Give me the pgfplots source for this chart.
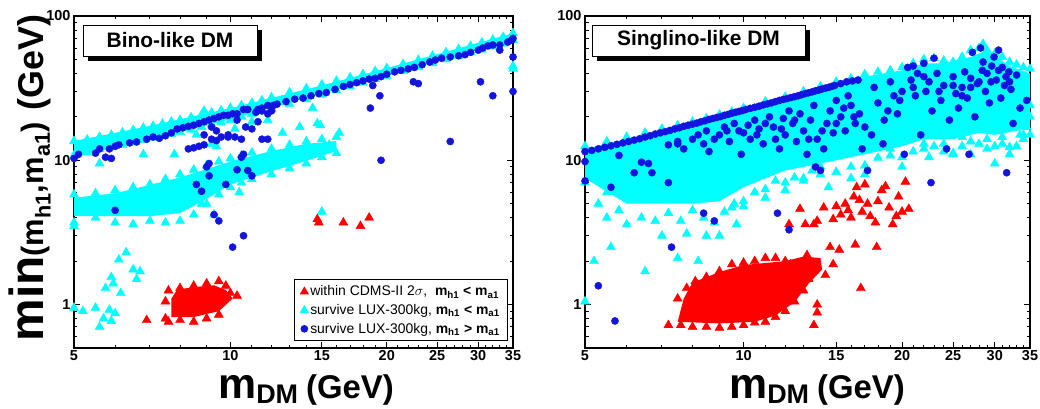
\documentclass[border=0pt]{standalone}
\usepackage{pgfplots}
\pgfplotsset{compat=1.18}
\usepackage{fontspec}
\setmainfont{Liberation Sans}
\definecolor{cy}{RGB}{0,255,255}
\definecolor{bl}{RGB}{20,20,225}
\definecolor{rd}{RGB}{255,0,0}
\newcommand{\sub}[1]{\textsubscript{#1}}
\begin{document}
\begin{tikzpicture}
\path[use as bounding box] (0,0) rectangle (1040bp,409bp);
% ---------------- LEFT PANEL ----------------
\begin{axis}[at={(74bp,61bp)}, anchor=south west, scale only axis, width=439bp, height=332bp,
  xmode=log, ymode=log, xmin=5, xmax=35, ymin=0.5, ymax=100,
  xtick={5,10,15,20,25,30,35}, xticklabels={5,10,15,20,25,30,35},
  minor xtick={6,7,8,9,11,12,13,14,16,17,18,19,21,22,23,24,26,27,28,29,31,32,33,34},
  ytick={1,10,100}, yticklabels={1,10,100},
  minor ytick={0.5,0.6,0.7,0.8,0.9,2,3,4,5,6,7,8,9,20,30,40,50,60,70,80,90},
  major tick length=6bp, minor tick length=3.5bp,
  tick style={black, line width=0.9pt}, axis line style={line width=1.1pt},
  ticklabel style={font=\bfseries\fontsize{14.5}{14.5}\selectfont},
  xticklabel style={inner ysep=2bp},
 legend style={at={(0.989,0.021)}, anchor=south east, draw=black, line width=0.8pt,
   font=\fontsize{14}{16}\selectfont, row sep=3bp, inner ysep=4bp, inner xsep=6bp},
 legend cell align=left]
\addlegendimage{only marks, mark=triangle*, mark size=4.5bp, rd}
\addlegendentry{within CDMS-II 2$\sigma$,\ \ \textbf{m\sub{h1} < m\sub{a1}}}
\addlegendimage{only marks, mark=triangle*, mark size=4.5bp, cy}
\addlegendentry{survive LUX-300kg, \textbf{m\sub{h1} < m\sub{a1}}}
\addlegendimage{only marks, mark=*, mark size=3.4bp, bl}
\addlegendentry{survive LUX-300kg, \textbf{m\sub{h1} > m\sub{a1}}}
% upper cyan band
\addplot[forget plot, draw=none, fill=cy] coordinates {(5,10.6)(7,13.8)(10,19.2)(15,29)(20,38.5)(35,68)(35,76)(20,43.5)(15,33)(10,23)(7,17.3)(5,13.6)};
\addplot[forget plot, only marks, mark=triangle*, mark size=5.2bp, cy] coordinates {
(5,10.8)(5.3,11.3)(5.6,11.9)(5.9,12.3)(6.2,12.8)(6.5,13.3)(6.8,13.8)(7.1,14.3)(7.4,14.7)(7.7,15.2)(8,15.7)(8.4,16.3)(8.8,17)(9.2,17.7)(9.6,18.3)(10,19)(10.5,20)(11,21)(11.5,21.8)(12,22.7)(13,24.5)(14,26.5)(15,28.5)(16,30.5)(17,32.5)(18,34.5)(19,36.5)(20,38.5)(21.5,41.5)(23,44.5)(24.5,47)(26,50)(27.5,53)(29,56)(30.5,58.5)(32,61.5)(33.5,64.5)(35,68)
(5,13.6)(5.3,13.9)(5.6,14.5)(5.9,15)(6.2,15.6)(6.5,16.2)(6.8,16.8)(7.1,17.3)(7.4,17.9)(7.7,18.5)(8,19)(8.4,19.8)(8.8,20.6)(9.2,21.4)(9.6,22.2)(10,23)(10.5,24)(11,25)(11.5,26)(12,27.3)(13,29.5)(14,31.5)(15,33.5)(16,35.5)(17,37.5)(18,39.5)(19,41.5)(20,43.5)(21.5,46.5)(23,49.5)(24.5,53)(26,56)(27.5,59)(29,62)(30.5,65.5)(32,68.5)(33.5,71.5)(35,76)
(5.6,9.5)(6.8,11)(7.8,11)(8.6,15)(8.9,22)(9.2,13)(9.4,12.5)(10.2,16.5)(11,18.5)(11.8,19)(12.6,15.5)(13.6,17)(14.4,23)(14.7,18)(14.9,17.5)(16.2,15.5)(15,4.4)(5,3.5)(8.8,5)(9.3,4.2)(10.4,6)(35,45)(35,43)
(5,0.95)(5.2,0.9)(5.5,0.95)(5.6,0.7)(5.7,0.8)(5.85,0.92)(5.9,0.77)(6,0.87)(5.75,1.3)(5.9,1.55)(6.1,2.05)(6.3,2.3)(6.15,1.2)(6.5,1.75)(6.6,1.5)(6.7,1.7)(5.95,1.4)};
% lower cyan band
\addplot[forget plot, draw=none, fill=cy] coordinates {(5,4.1)(7,4.1)(8,4.3)(9,5.4)(10,6.8)(12,8.4)(14,9.9)(16,11.6)(16,13.6)(14,13)(12,11.6)(10,9.8)(8,7.6)(6,5.9)(5,5.5)};
\addplot[forget plot, only marks, mark=triangle*, mark size=5.2bp, cy] coordinates {
(5,3.7)(5.5,4)(6,3.7)(6.5,3.6)(7,3.8)(7.5,3.7)(8,3.8)(8.5,4.2)(9,5)(9.5,5.8)(10,6.5)(10.5,7)(11,7.4)(12,8)(13,8.8)(14,9.5)(15,10.5)(16,11.2)
(5,5.8)(5.5,5.9)(6,6.2)(6.5,6.5)(7,6.8)(7.5,7.4)(8,8)(8.5,8.6)(9,9.2)(9.5,9.8)(10,10.3)(10.5,10.8)(11,11.3)(12,12)(13,12.8)(14,13.5)(15,14)(16,14.5)
(5.3,4.8)(5.8,5)(6.3,4.6)(6.8,5.3)(7.3,4.8)(7.8,5.6)(8.3,5.9)(8.8,6.8)(9.3,7.2)(9.8,8)(10.3,8.6)(11.3,9.4)(12.5,10.3)(13.5,11)(14.5,12)(15.5,12.8)};
% red
\addplot[forget plot, draw=none, fill=rd] coordinates {(7.7,0.82)(8.5,0.82)(9.5,0.9)(10.1,1.1)(9.8,1.26)(9.3,1.36)(8.5,1.32)(7.9,1.27)(7.7,1.1)};
\addplot[forget plot, only marks, mark=triangle*, mark size=5.2bp, rd] coordinates {
(7.5,0.8)(7.5,1.05)(7.6,1.25)(8,1.3)(8.5,1.35)(9,1.4)(9.5,1.45)(9.8,1.35)(10.3,1.15)(10,1.2)(9.5,0.85)(9,0.8)(8.5,0.76)(8,0.78)(7.6,0.76)(6.9,0.78)
(8.2,1.1)(8.8,1.0)(9.2,1.2)(7.9,0.95)(14.7,3.9)(14.8,3.7)(16.5,3.7)(17.8,3.5)(18.5,4)};
% blue
\addplot[forget plot, only marks, mark=*, mark size=3.6bp, bl] coordinates {
(5,10.3)(5.1,11)(5.5,11.2)(5.6,12)(5.75,10.5)(5.85,12)(6,12.5)(6.1,12.8)(6.4,13.2)(6.6,13.4)(6.9,14)(7.1,14.5)(7.3,14.2)(7.5,14.8)(7.7,15.5)(7.9,16.5)(8.1,16.8)(8.3,17.2)(8.5,17.5)(8.7,18)(8.9,18.5)(9.1,19)(9.3,19.5)(9.5,20)(9.7,20.5)(9.9,20.5)(10.1,21)(10.3,21)(10.6,22.5)(10.8,22.5)(11.2,21.5)(11.5,23)(11.8,24)(12.3,24.5)(12.8,25.5)(13.3,26.5)(13.8,27)(14.3,28)(14.8,29)(15.3,29.5)(15.9,31)(16.5,32.5)(17,33.5)(17.5,34.5)(18,35.5)(18.5,36.5)(19,37)(19.5,38)(20,39.5)(20.7,41)(21.3,42)(22,43)(22.6,44)(23.4,46)(24.2,48)(24.8,49.5)(25.5,51)(26.5,52)(27.5,53)(28.3,54)(29,56)(30,58)(30.6,60)(31.3,62)(32,63)(33,63)(34.2,66)(34.8,68)(35,70)
(6,4.5)(5.9,10.3)(8.6,6.8)(8.8,6.1)(9,9)(9.1,9.5)(9.1,7.8)(9.3,4.2)(9.5,3.8)(9.8,6.8)(10.1,2.5)(10.6,3)(10.3,8.6)(10.5,10.5)(10.6,11)(10.8,8.5)(11,7.8)(10.5,14)(11,16.5)(11.3,18.5)(11.5,14)(11.8,14)(8.3,12)(8.5,12.2)(8.7,12.5)(8.9,12.8)(9.2,14)(9.4,13.7)(9.6,14.5)(9.9,14.5)(10.2,14.5)(9.2,17)(9.4,16)(8.9,15)(9.9,15)(10.3,19)(10.7,17)(11.3,22.5)(11.5,22)(11.8,21)(12,22)(12.1,24)(18.6,23)(18.8,33)(19.4,28)(19.5,10)(22.5,35)(23,34)(26.5,13.5)(30.3,35)(32,28)(33,58)(35,52)(35,30)};
\end{axis}
% ---------------- RIGHT PANEL ----------------
\begin{axis}[at={(585bp,61bp)}, anchor=south west, scale only axis, width=445bp, height=332bp,
  xmode=log, ymode=log, xmin=5, xmax=35, ymin=0.5, ymax=100,
  xtick={5,10,15,20,25,30,35}, xticklabels={5,10,15,20,25,30,35},
  minor xtick={6,7,8,9,11,12,13,14,16,17,18,19,21,22,23,24,26,27,28,29,31,32,33,34},
  ytick={1,10,100}, yticklabels={1,10,100},
  minor ytick={0.5,0.6,0.7,0.8,0.9,2,3,4,5,6,7,8,9,20,30,40,50,60,70,80,90},
  major tick length=6bp, minor tick length=3.5bp,
  tick style={black, line width=0.9pt}, axis line style={line width=1.1pt},
  ticklabel style={font=\bfseries\fontsize{14.5}{14.5}\selectfont},
  xticklabel style={inner ysep=2bp}]
\addplot[forget plot, draw=none, fill=cy] coordinates {(5,7.5)(6,5)(7,5)(8,5)(9,5.2)(10,6.5)(11,7.5)(12,8.5)(13,9)(15,10)(17,11)(20,12.5)(22,14)(25,14)(28,15.5)(30,15)(33,16)(35,17)(35,40)(32,45)(29,58)(27,52)(24,47)(22,47)(20,42)(17,38)(15,34)(10,22.5)(7,16)(5,12)};
\addplot[forget plot, only marks, mark=triangle*, mark size=5.2bp, cy] coordinates {
(5,1.05)(5.2,2)(5.6,2.5)(6.5,1.7)(7.5,2.1)(8.2,2)(7,3)(7.8,3.1)(8.5,3)(9,3)(9.7,3.6)(10,4.8)(9.5,4.7)(11,5.5)(12,6.2)(13,7.2)(14.5,6.5)(14,9)(16,7.5)(17,8)(20,9)(22.5,10.5)(25,11)(27,11)(30,9.5)(32,11)(34,15)(35,15)(24,13)(19,13)(15,12)
(5,7)(5.3,5)(5.5,4)(5.8,4.5)(6,3.6)(6.4,4)(6.8,3.8)(7.2,4.3)(7.6,3.8)(8,4.5)(8.4,4)(8.8,3.7)(9.2,4.4)(9.6,5)(10,5.2)(10.5,6)(11,6.3)(11.5,7.2)(12,7)(12.5,7.6)(13,7.5)(13.5,8.5)(14,8)(15,8.3)(16,9)(17,9.2)(18,10.4)(19,10.8)(20,10.5)(21,11.5)(22,12)(23,12.5)(24,11.5)(25,11.2)(26,12.5)(27,13.5)(28,13)(29,12)(30,12.5)(31,13)(32,12.3)(33,12.5)(34,14)
(5,12.5)(5.5,13.5)(6,14.5)(6.5,15.5)(7,16.5)(7.5,17.5)(8,18.5)(8.5,19.5)(9,20.7)(9.5,21.7)(10,23)(11,25.5)(12,27.5)(13,30)(14,32.5)(15,35)(16,37)(17,39.5)(18,41)(19,42)(20,44)(21,47)(22,50)(23,51)(24,49)(25,48)(26,52)(27,58)(28,60)(28.5,64)(29,58)(30,55)(31,52)(32,48)(33,46)(34,44)(35,43)
(8,10)(9,12)(11,8)(14,11)(16,14)(18,17)(21,16)(24,17)(27,20)(30,18)(33,20)(34.5,17)(35,20)(35,24)
(5.5,6)(6.3,5.5)(7,6.2)(7.8,5.8)(8.5,6.5)(9.3,6.8)(6,7.2)(7.4,8.5)(10.5,8)(12,9.5)(13.5,10.5)(15.5,11)(17.5,12)(19,12)(22,13)(26,14.5)(29,14)(31,14.5)(33.5,15)};
\addplot[forget plot, draw=none, fill=rd] coordinates {(7.5,0.76)(9,0.74)(10.5,0.76)(11.5,0.84)(12.5,1.04)(13.3,1.4)(14.1,1.75)(14,2.1)(13,2.15)(12,2.0)(10,1.88)(9,1.68)(8,1.42)(7.7,1.1)};
\addplot[forget plot, only marks, mark=triangle*, mark size=5.2bp, rd] coordinates {
(7.2,0.72)(7.6,0.72)(8,0.7)(8.5,0.7)(9,0.69)(9.5,0.7)(10,0.72)(10.5,0.75)(11,0.76)(11.5,0.82)(12,0.9)(7.5,1.1)(7.8,1.3)(8.1,1.45)(8.5,1.55)(9,1.7)(9.5,1.9)(10,1.95)(10.5,2)(11,2.1)(11.5,2.1)(12,2.0)(12.5,1.05)(13,1.25)(13.3,1.5)
(12.2,3.6)(12.8,4.6)(13.1,3.6)(13.6,3.6)(13.8,3.8)(14.2,4.7)(14.8,3.9)(15,4.8)(15.3,4.2)(15.6,5)(15.8,4.5)(16,4.0)(16.2,5.6)(16.4,6.5)(16.6,5.3)(16.8,4.4)(17,6.8)(17.2,5)(17.4,4.1)(17.8,3.7)(18,5.2)(18.3,6.2)(18.6,6.6)(18.9,4.7)(19.2,3.6)(19.5,4.1)(19.7,5.6)(20,4.4)(20.3,7.1)(20.6,4.6)(17.9,2.5)(16.3,2.6)(16.7,1.3)(14.6,2.5)(15.2,2.4)(13.6,0.72)(13.8,0.88)(13.8,1)(12.3,1.9)(12.7,1.7)(13.2,2.2)(13.5,1.9)(14.3,1.6)(14.8,1.9)(11.9,1.8)};
\addplot[forget plot, only marks, mark=*, mark size=3.6bp, bl] coordinates {
(5,11.5)(5.3,12)(5.6,12.6)(5.9,13.2)(6.2,13.8)(6.5,14.5)(6.8,15.2)(7.1,15.8)(7.4,16.5)(7.7,17.2)(8,17.8)(8.3,18.5)(8.6,19.2)(8.9,19.8)(9.2,20.5)(9.5,21.2)(9.8,21.8)(10.1,22.5)(10.5,23.3)(10.9,24.2)(11.3,25)(11.7,26)(12.1,26.8)(12.5,27.6)(12.9,28.5)(13.3,29.4)(13.7,30.3)(14.1,31.2)(14.5,32)(14.9,33)(15.3,34)(15.7,35)(16.1,35.5)(16.5,36)
(5.15,11.7)(5.45,12.3)(5.75,12.9)(6.05,13.5)(6.35,14.1)(6.65,14.8)(6.95,15.5)(7.25,16.1)(7.55,16.8)(7.85,17.5)(8.15,18.1)(8.45,18.8)(8.75,19.5)(9.05,20.1)(9.35,20.8)(9.65,21.5)(9.95,22.1)(10.3,22.9)(10.7,23.7)(11.1,24.6)(11.5,25.5)(11.9,26.4)(12.3,27.2)(12.7,28)(13.1,29)(13.5,29.8)(13.9,30.7)(14.3,31.6)(14.7,32.5)
(5,9.8)(5,7.2)(5.6,6.5)(5.8,10.8)(6.4,9.7)(6.6,9.5)(6.7,8.2)(7.2,12.8)(7.5,13.5)(7.7,12)(7.2,7)(6.2,8.2)(7.5,13)(8,14)(8.2,15)(8.4,13)(8.6,11.5)(8.5,16)(8.8,14)(9,15)(9.2,17)(9.4,13.5)(9.6,18)(9.8,16)(10,15.5)(10.2,17.5)(9.9,11)(10.3,14)(10.5,19)(10.7,16.5)(10.9,13)(11,18)(11.2,20)(11.4,17)(11.5,14)(11.7,12)(11.9,19.5)(12,15)(12.2,22)(12.4,18)(12.6,13.5)(12.8,21)(13,16)(13.2,11)(13.4,19)(13.6,24)(13.8,14)(13.7,9)(14,8.5)(14.2,12)(14.4,18)(14.6,22)(14.8,15.5)(15,26)(15.3,20)(15.6,16)(15.8,28)(16,24)(16.3,18)(16.6,21)(16.8,12)(17.2,8.5)(17.5,15)(17.7,32)(18,25)(18.4,13)(18.8,22)(19,35)(19.3,28)(19.6,21)(20,30)(20.2,11)(20.5,44)(20.8,36)(21,45)(21.2,28)(21.4,40)(21.7,15)(22,47)(22.2,30)(22.5,35)(22.7,7)(22.8,22)(23,51)(23.3,40)(23.7,26)(24,33)(24.3,12)(24.6,19)(25,38)(25.3,29)(25.6,23)(26,32)(26.3,41)(26.6,27)(26.8,11)(27.2,56)(27.5,20)(27.8,34)(28.2,60)(28.5,48)(28.8,30)(29,40)(29.3,25)(29.6,45)(29.9,52)(30.2,36)(30.5,58)(30.8,27)(31,44)(31.3,33)(31.6,8.2)(31.9,41)(32.2,31)(32.5,18)(33,39)(33.5,23)(34.5,26)
(9.3,16)(10.6,15)(11.8,16.5)(12.5,19)(13.3,14)(14.1,16)(15,18)(15.5,23)(16.2,20)(17,17)(18.5,19)(19.8,26)(21,32)(22,38)(23.5,30)(25,33)(26,28)(27,32)(28,35)(29.5,35)(30.5,42)(31.5,38)(32,35)(28.4,42)(27,37)
(5.3,1.35)(5.7,0.77)(7.3,2.5)(8.4,4.3)(8.8,3.8)(11.6,4.3)(12.2,3.3)};
\end{axis}
% title boxes
\fill[black] (88bp,348bp) rectangle (262bp,379bp);
\draw[fill=white, line width=0.8pt] (83bp,353bp) rectangle (257bp,384bp);
\node[font=\bfseries\fontsize{21}{21}\selectfont] at (170bp,368.5bp) {Bino-like DM};
\fill[black] (597bp,348bp) rectangle (810bp,379bp);
\draw[fill=white, line width=0.8pt] (592bp,353bp) rectangle (805bp,384bp);
\node[font=\bfseries\fontsize{21}{21}\selectfont] at (698.5bp,368.5bp) {Singlino-like DM};
% axis labels
\node[rotate=90, font=\bfseries] at (30bp,231bp) {{\fontsize{48}{48}\selectfont min}{\fontsize{31}{31}\selectfont (m\sub{h1},m\sub{a1})}\hspace{12bp}{\fontsize{36}{36}\selectfont (GeV)}};
\node[anchor=base, font=\bfseries] at (306bp,11bp) {{\fontsize{43}{43}\selectfont m}{\fontsize{27}{27}\selectfont\raisebox{-5bp}{DM}}\hspace{8bp}{\fontsize{33}{33}\selectfont (GeV)}};
\node[anchor=base, font=\bfseries] at (817bp,11bp) {{\fontsize{43}{43}\selectfont m}{\fontsize{27}{27}\selectfont\raisebox{-5bp}{DM}}\hspace{8bp}{\fontsize{33}{33}\selectfont (GeV)}};
\end{tikzpicture}
\end{document}
